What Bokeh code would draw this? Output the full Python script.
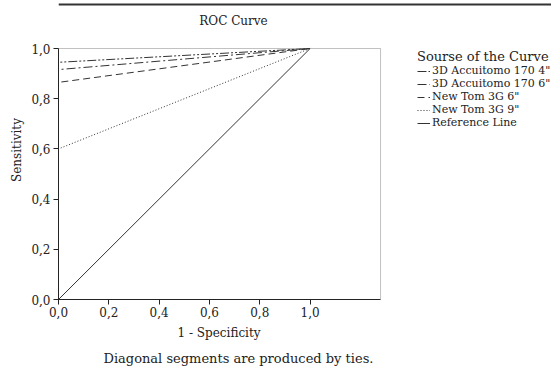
from bokeh.plotting import figure
from bokeh.models import Range1d, FixedTicker, Legend, LegendItem, Title, Label, BoxAnnotation, Span
from bokeh.embed import file_html
from bokeh.resources import INLINE

# Data
series_names = ['3D Accuitomo 170 4"', '3D Accuitomo 170 6"', 'New Tom 3G 6"', 'New Tom 3G 9"', 'Reference Line']
fpr_points = [0.0, 0.0, 1.0]
sens_4 = [0.0, 0.945, 1.0]
sens_6 = [0.0, 0.916, 1.0]
sens_nt6 = [0.0, 0.865, 1.0]
sens_nt9 = [0.0, 0.60, 1.0]
ref_x = [0.0, 1.0]
ref_y = [0.0, 1.0]
tick_values = [0.0, 0.2, 0.4, 0.6, 0.8, 1.0]
tick_labels = ["0,0", "0,2", "0,4", "0,6", "0,8", "1,0"]

FONT = "DejaVu Serif"
INK = "#222222"
X_END = 1.28   # right edge of the plotting box
Y_END = 1.0

p = figure(width=551, height=370, output_backend="svg", toolbar_location=None,
           x_range=Range1d(0, 493 / 251.6), y_range=Range1d(0, 299 / 251.0),
           min_border_left=58, min_border_right=0, min_border_top=0, min_border_bottom=71)
p.grid.visible = False
p.outline_line_color = None

# plotting box outline
p.add_layout(BoxAnnotation(left=0, right=X_END, bottom=0, top=Y_END, fill_alpha=0,
                           line_color="#333333", line_width=1))
# rule across the top of the page
p.add_layout(Span(location=295 / 251.0, dimension="width", line_color="#333333", line_width=2))

for ax in (p.xaxis[0], p.yaxis[0]):
    ax.ticker = FixedTicker(ticks=tick_values)
    ax.major_label_overrides = {v: l for v, l in zip(tick_values, tick_labels)}
    ax.minor_tick_line_color = None
    ax.major_tick_out = 5
    ax.major_tick_in = 0
    ax.axis_line_color = INK
    ax.major_tick_line_color = INK
    ax.major_label_text_font = FONT
    ax.major_label_text_font_size = "12px"
    ax.major_label_text_color = INK
    ax.axis_label_text_font = FONT
    ax.axis_label_text_font_style = "normal"
    ax.axis_label_text_font_size = "12px"
    ax.axis_label_text_color = INK
p.xaxis.bounds = (0, X_END)
p.yaxis.bounds = (0, Y_END)

p.yaxis.axis_label = "Sensitivity"
p.xaxis.major_label_standoff = 2
p.yaxis.major_label_standoff = 3
p.yaxis.axis_label_standoff = 4

r1 = p.line(fpr_points, sens_4, line_color="#333333", line_width=1, line_dash="9 2 2 2 2 2")
r2 = p.line(fpr_points, sens_6, line_color="#333333", line_width=1, line_dash="9 3 2 3")
r3 = p.line(fpr_points, sens_nt6, line_color="#333333", line_width=1, line_dash="7 4")
r4 = p.line(fpr_points, sens_nt9, line_color="#333333", line_width=1, line_dash="1 2")
r5 = p.line(ref_x, ref_y, line_color="#333333", line_width=1)

legend = Legend(items=[LegendItem(label=n, renderers=[r]) for n, r in zip(series_names, [r1, r2, r3, r4, r5])],
                location=(359, 170), title="Sourse of the Curve",
                title_text_font=FONT, title_text_font_size="13px", title_text_font_style="normal",
                title_text_color=INK, title_standoff=0,
                label_text_font=FONT, label_text_font_size="11px", label_text_color=INK,
                label_height=10, label_standoff=2, glyph_width=13, glyph_height=10,
                spacing=0, padding=0, margin=0, border_line_color=None, background_fill_alpha=0)
p.add_layout(legend, "center")

p.add_layout(Label(x=175 / 251.6, y=279 / 251.0, text="ROC Curve", text_font=FONT, text_font_size="12px",
                   text_color=INK, text_align="center", text_baseline="middle"))
p.add_layout(Title(text="1 - Specificity", align="left", offset=119, standoff=9,
                   text_font=FONT, text_font_size="12px", text_font_style="normal", text_color=INK), "below")
p.add_layout(Title(text="Diagonal segments are produced by ties.", align="left", offset=45, standoff=9,
                   text_font=FONT, text_font_size="13px", text_font_style="normal", text_color=INK), "below")

open("out.html", "w").write(file_html(p, INLINE))
